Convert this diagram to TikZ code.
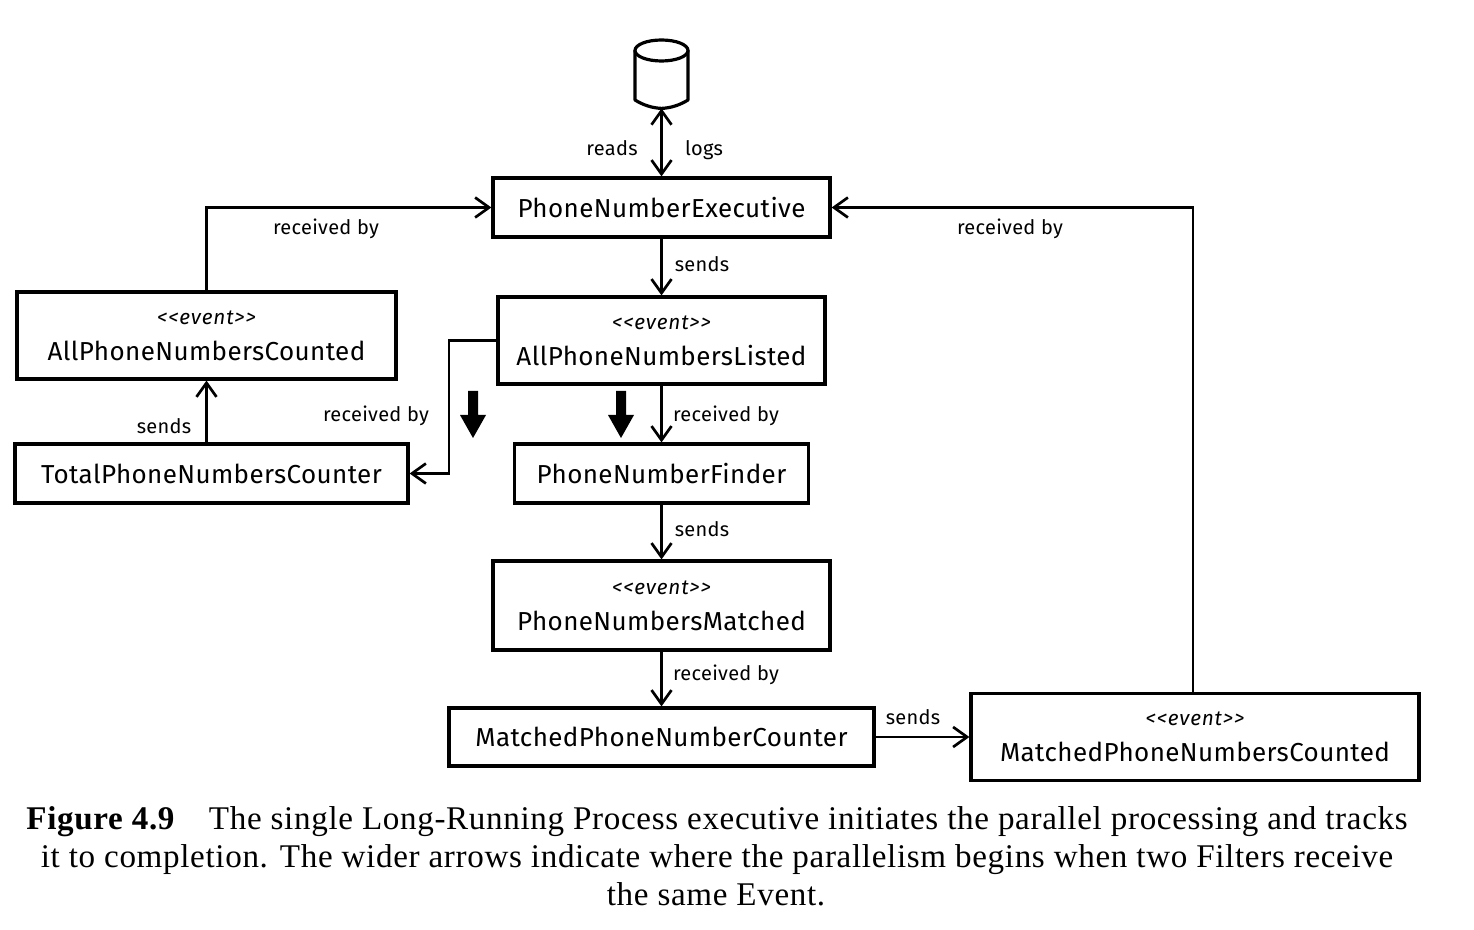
\documentclass[tikz,border=0pt]{standalone}
\usepackage{fontspec}
\setmainfont{Liberation Serif}[LetterSpace=2.0]
\newfontfamily\handfont{Fira Sans}[LetterSpace=1.5]
\newfontfamily\stereofont{Fira Sans Italic}[LetterSpace=4]
\usetikzlibrary{arrows.meta}
\tikzset{
  x=0.5pt,y=-0.5pt,
  box/.style={draw=black,line width=1.6pt,fill=white,inner sep=0pt,align=center,font=\handfont\fontsize{13}{15}\selectfont},
  conn/.style={draw=black,line width=1.35pt,-{Straight Barb[length=7pt,width=10pt,line width=1.35pt]}},
  lab/.style={font=\handfont\fontsize{10}{11}\selectfont,inner sep=0pt,anchor=base},
  capline/.style={font=\fontsize{16.55}{19}\selectfont,inner sep=0pt,anchor=base},
  fat/.style={fill=black,draw=none},
}
\newcommand{\evbox}[1]{{\stereotext}\\[3pt]#1}
\newcommand{\stereotext}{\stereofont\fontsize{10.4}{10}\selectfont <<event>>}
\begin{document}
\begin{tikzpicture}
\useasboundingbox (0,0) rectangle (1474,930);
\node[box,minimum width=168.5pt,minimum height=29.5pt] (pne) at (661.5,207.5) {PhoneNumberExecutive};
\node[box,minimum width=163.5pt,minimum height=43.5pt] (apl) at (661.5,340.5) {\evbox{AllPhoneNumbersListed}};
\node[box,minimum width=147pt,minimum height=29.5pt] (pnf) at (661.5,473.5) {PhoneNumberFinder};
\node[box,minimum width=168.5pt,minimum height=44.5pt] (pnm) at (661.5,605.5) {\evbox{PhoneNumbersMatched}};
\node[box,minimum width=212.5pt,minimum height=29pt] (mpc) at (661.5,737) {MatchedPhoneNumberCounter};
\node[box,minimum width=224pt,minimum height=43.5pt] (mpn) at (1195,737) {\evbox{MatchedPhoneNumbersCounted}};
\node[box,minimum width=189.5pt,minimum height=43.5pt] (apc) at (206.5,335.5) {\evbox{AllPhoneNumbersCounted}};
\node[box,minimum width=196.5pt,minimum height=29.5pt] (tot) at (211.5,473.5) {TotalPhoneNumbersCounter};
% database
\node[minimum width=26.5pt,minimum height=34pt,inner sep=0pt] (db) at (661.5,74) {};
\draw[line width=1.6pt,fill=white,line join=round]
  (635,50.5) -- (635,100) .. controls (643,105) and (652,108) .. (db.south)
  .. controls (671,108) and (680,105) .. (688,100) -- (688,50.5);
\draw[line width=1.6pt,fill=white] (661.5,50.5) ellipse [x radius=26.5,y radius=10.5];
% connectors
\draw[draw=black,line width=1.35pt,{Straight Barb[length=7pt,width=10pt,line width=1.35pt]}-{Straight Barb[length=7pt,width=10pt,line width=1.35pt]}] (db.south) -- (pne.north);
\draw[conn] (pne.south) -- (apl.north);
\draw[conn] (apl.south) -- (pnf.north);
\draw[conn] (pnf.south) -- (pnm.north);
\draw[conn] (pnm.south) -- (mpc.north);
\draw[conn] (mpc.east) -- (mpn.west);
\draw[conn] ([xshift=-1pt]mpn.north) |- (pne.east);
\draw[conn] (apc.north) |- (pne.west);
\draw[conn] (tot.north -| apc.south) -- (apc.south);
\coordinate (bend) at (449,341);
\draw[conn] (apl.west) -- (apl.west -| bend) -- (bend |- tot.east) -- (tot.east);
% wide arrows
\node[inner sep=0pt,minimum size=0pt] (w1) at (473,391) {};
\node[inner sep=0pt,minimum size=0pt] (w2) at (621,391) {};
\fill[fat] (w1) ++(-5,0) -- ++(10,0) -- ++(0,24) -- ++(8,0) -- ++(-13,23) -- ++(-13,-23) -- ++(8,0) -- cycle;
\fill[fat] (w2) ++(-5,0) -- ++(10,0) -- ++(0,24) -- ++(8,0) -- ++(-13,23) -- ++(-13,-23) -- ++(8,0) -- cycle;
% labels
\node[lab] (l1) at (612,155.5) {reads};
\node[lab] (l2) at (704,155.5) {logs};
\node[lab] (l3) at (326,234.5) {received by};
\node[lab] (l4) at (1010,234.5) {received by};
\node[lab] (l5) at (702,271.5) {sends};
\node[lab] (l6) at (376,421.5) {received by};
\node[lab] (l7) at (726,421.5) {received by};
\node[lab] (l8) at (164,433.5) {sends};
\node[lab] (l9) at (702,536.5) {sends};
\node[lab] (l10) at (726,680.5) {received by};
\node[lab] (l11) at (913,724.5) {sends};
% caption
\node[capline] (c1) at (717,829) {\textbf{Figure 4.9}\hspace{0.75em} The single Long-Running Process executive initiates the parallel processing and tracks};
\node[capline] (c2) at (717,867) {it to completion. The wider arrows indicate where the parallelism begins when two Filters receive};
\node[capline] (c3) at (716,905) {the same Event.};
\end{tikzpicture}
\end{document}
